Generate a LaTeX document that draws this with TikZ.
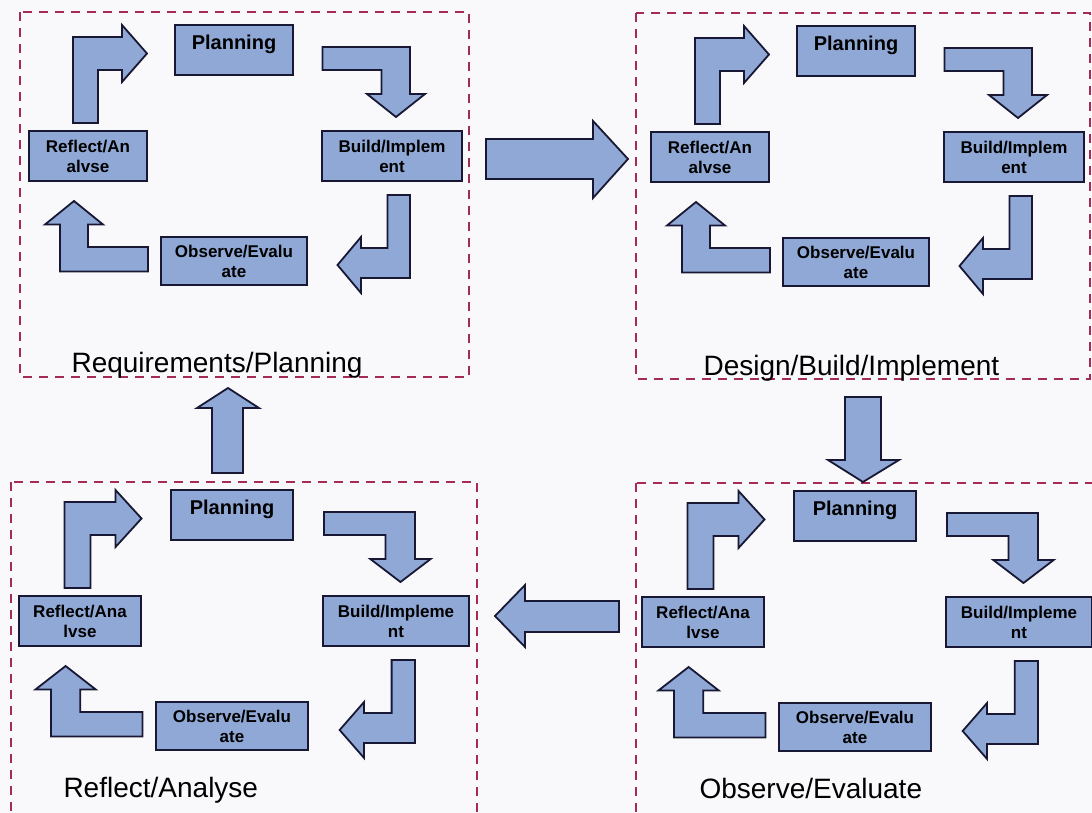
\documentclass[tikz,border=0pt]{standalone}
\usepackage{fontspec}
\setmainfont{Liberation Sans}
\definecolor{boxblue}{RGB}{143,168,214}
\definecolor{edgenavy}{RGB}{24,24,52}
\definecolor{framered}{RGB}{165,42,84}
\definecolor{paper}{RGB}{249,249,251}
\begin{document}
\begin{tikzpicture}[x=1pt,y=-1pt,
	stagebox/.style={draw=edgenavy,fill=boxblue,line width=1.8pt,inner sep=0pt,
		font=\bfseries\fontsize{17}{20}\selectfont,align=center},
	blockarrow/.style={draw=edgenavy,fill=boxblue,line width=1.8pt,line join=miter},
	phaseframe/.style={draw=framered,line width=2pt,dash pattern=on 9pt off 7pt},
	phaselabel/.style={anchor=base west,font=\fontsize{28}{32}\selectfont}]
	\clip (0,0) rectangle (1092,813);
	\fill[paper] (0,0) rectangle (1092,813);
	\draw[phaseframe] (20,12) rectangle (469,377);
	\draw[phaseframe] (636,13) rectangle (1090,379);
	\draw[phaseframe] (11,482) rectangle (477,830);
	\draw[phaseframe] (636,483) rectangle (1110,830);
	\foreach \dx/\dy/\sx/\rtxt/\btxt [count=\i] in {
		234/0/1/{Reflect/An\\alvse}/{Build/Implem\\ent},
		856/1/1/{Reflect/An\\alvse}/{Build/Implem\\ent},
		232/465/1.04/{Reflect/Ana\\lvse}/{Build/Impleme\\nt},
		855/466/1.04/{Reflect/Ana\\lvse}/{Build/Impleme\\nt}}{
		\pgfmathtruncatemacro\rx{round(\sx*146)}
		\pgfmathtruncatemacro\bx{round(\sx*158)}
		\begin{scope}[shift={(\dx,\dy)}]
			\node[stagebox,minimum width={2*round(\sx*59)*1pt},text height=17pt,text depth=18pt,inner ysep=7.5pt,
				font=\bfseries\fontsize{20}{24}\selectfont] (plan\i) at (0,50) {Planning};
			\node[stagebox,minimum width={2*round(\sx*70)*1pt},minimum height=50pt] (build\i) at (\bx,156) {\btxt};
			\node[stagebox,minimum width={2*round(\sx*73)*1pt},minimum height=48pt] (obs\i) at (0,261) {Observe/Evalu\\ate};
			\node[stagebox,minimum width={2*round(\sx*59)*1pt},minimum height=50pt] (refl\i) at (-\rx,156) {\rtxt};
			\begin{scope}[xscale=\sx]
				\draw[blockarrow] (-161,123) -- (-161,37) -- (-112,37) -- (-112,25) -- (-87,53.5)
					-- (-112,82) -- (-112,70) -- (-136,70) -- (-136,123) -- cycle;
				\draw[blockarrow] (88.5,47) -- (176,47) -- (176,94) -- (191,94) -- (162,117)
					-- (133,94) -- (147.5,94) -- (147.5,70) -- (88.5,70) -- cycle;
				\draw[blockarrow] (153.5,195) -- (176,195) -- (176,278) -- (127,278) -- (127,293)
					-- (103.5,265) -- (127,237) -- (127,248) -- (153.5,248) -- cycle;
				\draw[blockarrow] (-86,247) -- (-86,271.5) -- (-174,271.5) -- (-174,224.5) -- (-189,224.5)
					-- (-160,201) -- (-131,224.5) -- (-146,224.5) -- (-146,247) -- cycle;
			\end{scope}
		\end{scope}
	}
	\draw[blockarrow] (486,139) -- (593,139) -- (593,121) -- (628,159) -- (593,198) -- (593,179) -- (486,179) -- cycle;
	\draw[blockarrow] (845,397) -- (881,397) -- (881,460) -- (899,460) -- (863,482) -- (828,460) -- (845,460) -- cycle;
	\draw[blockarrow] (619,601) -- (619,632) -- (525,632) -- (525,647) -- (495,616) -- (525,585) -- (525,601) -- cycle;
	\draw[blockarrow] (212,473) -- (212,408) -- (197,408) -- (228,388) -- (259,408) -- (243,408) -- (243,473) -- cycle;
	\node[phaselabel] (reqlbl) at (68,372) {Requirements/Planning};
	\node[phaselabel] (deslbl) at (700,375) {Design/Build/Implement};
	\node[phaselabel] (reflbl) at (60,797) {Reflect/Analyse};
	\node[phaselabel] (obslbl) at (696,798) {Observe/Evaluate};
\end{tikzpicture}
\end{document}
